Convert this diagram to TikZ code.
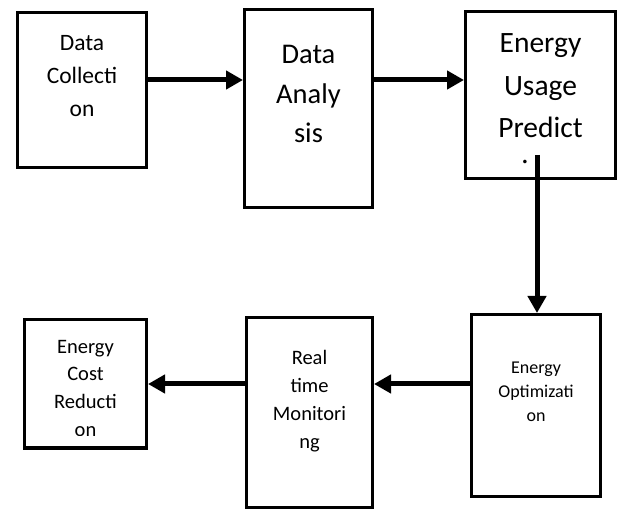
\documentclass[tikz,border=0pt]{standalone}
\usepackage{fontspec}
\setmainfont{Carlito}
\usetikzlibrary{positioning}
\usetikzlibrary{arrows.meta}
\tikzstyle{stage}=[draw,line width=3.4pt,inner sep=0pt]
\tikzstyle{caption}=[align=center,inner sep=0pt,anchor=base]
\tikzstyle{flow}=[draw,line width=5pt,-{Triangle[length=17pt,width=18pt]}]

\begin{document}
\begin{tikzpicture}[x=1pt,y=-1pt]

  \useasboundingbox (0,0) rectangle (619,510);

  % the six stages of the pipeline
  \foreach \x/\y/\w/\h/\name in {82/90/128.6/154.6/colln, 308.5/108.5/127.6/197.6/anlys, 540.5/95/149.6/166.6/pred,
                                 536/405.5/128.6/181.6/optim, 309.5/412.5/125.6/189.6/moni, 85.5/384/121.6/128.4/cost}
     \node[stage, minimum width=\w pt, minimum height=\h pt] (\name) at (\x,\y) {};

  % captions, placed by the baseline of their last line
  \node[caption, font=\fontsize{23.5}{33}\selectfont] (colltxt) at (82,117) {Data\\Collecti\\on};
  \node[caption, font=\fontsize{28.5}{39.5}\selectfont] (anlystxt) at (308.5,143) {Data\\Analy\\sis};
  \begin{scope}
    \clip (467,13) rectangle (614,165);
    \node[caption, font=\fontsize{29.5}{42.5}\selectfont] (predtxt) at (540.5,180.5) {Energy\\Usage\\Predict\\ion};
  \end{scope}
  \node[caption, font=\fontsize{18}{24}\selectfont] (optimtxt) at (536,422) {Energy\\Optimizati\\on};
  \node[caption, font=\fontsize{20.5}{28.3}\selectfont] (monitxt) at (309.5,449) {Real\\time\\Monitori\\ng};
  \begin{scope}
    \clip (25,320) rectangle (146,435.5);
    \node[caption, font=\fontsize{20.5}{27.8}\selectfont] (costtxt) at (85.5,436.5) {Energy\\Cost\\Reducti\\on};
  \end{scope}

  % arrows between the stages
  \coordinate (toprow) at (0,80);
  \coordinate (botrow) at (0,384);
  \coordinate (predtail) at (537,155);
  \foreach \source/\dest in {colln/anlys, anlys/pred}
     \draw[flow] (\source.east |- toprow) -- (\dest.west |- toprow);
  \foreach \source/\dest in {optim/moni, moni/cost}
     \draw[flow] (\source.west |- botrow) -- (\dest.east |- botrow);
  \draw[flow] (predtail) -- (predtail |- optim.north);

\end{tikzpicture}
\end{document}
